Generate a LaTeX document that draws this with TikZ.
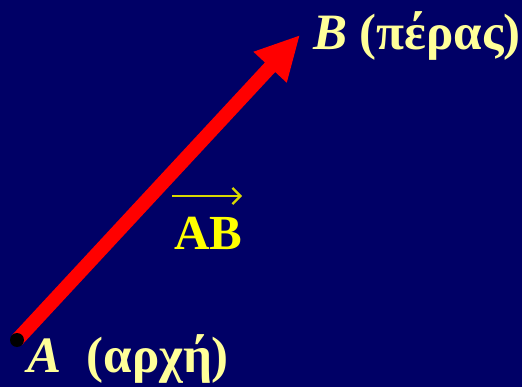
\documentclass[tikz,border=0pt]{standalone}
\usepackage{fontspec}
\setmainfont{Liberation Serif}
\usetikzlibrary{arrows.meta,positioning}
\definecolor{fondo}{HTML}{000066}
\definecolor{rojo}{HTML}{FF0000}
\definecolor{pale}{HTML}{FFFF99}
\definecolor{amarillo}{HTML}{FFFF00}
\tikzset{
  lbl/.style={pale,inner sep=0pt,anchor=base west,font=\fontsize{51}{60}\selectfont\bfseries},
  vlbl/.style={lbl,amarillo,font=\fontsize{49}{58}\selectfont\bfseries}
}
\begin{document}
\begin{tikzpicture}[x=1pt,y=-1pt,>=Latex,line cap=butt]
  \fill[fondo] (0,0) rectangle (522,387);
  \useasboundingbox (0,0) rectangle (522,387);
  % vector A -> B
  \coordinate (A) at (17,340);
  \coordinate (B) at (300,35);
  \draw[rojo,line width=14pt,-{Triangle[length=44pt,width=42pt]}] (A) -- (B);
  \fill[black] (A) circle (7);
  % labels
  \node[lbl] (labB) at (313,50) {\textit{B} (πέρας)};
  \node[lbl] (labA) at (27,372) {\textit{A}\ \ (αρχή)};
  \node[vlbl] (vec) at (174,250) {AB};
  \coordinate (v1) at (172,196);
  \coordinate (v2) at (242,196);
  \draw[amarillo!85!black,line width=2.2pt,-{Straight Barb[length=8pt,width=16pt]}] (v1) -- (v2);
\end{tikzpicture}
\end{document}
